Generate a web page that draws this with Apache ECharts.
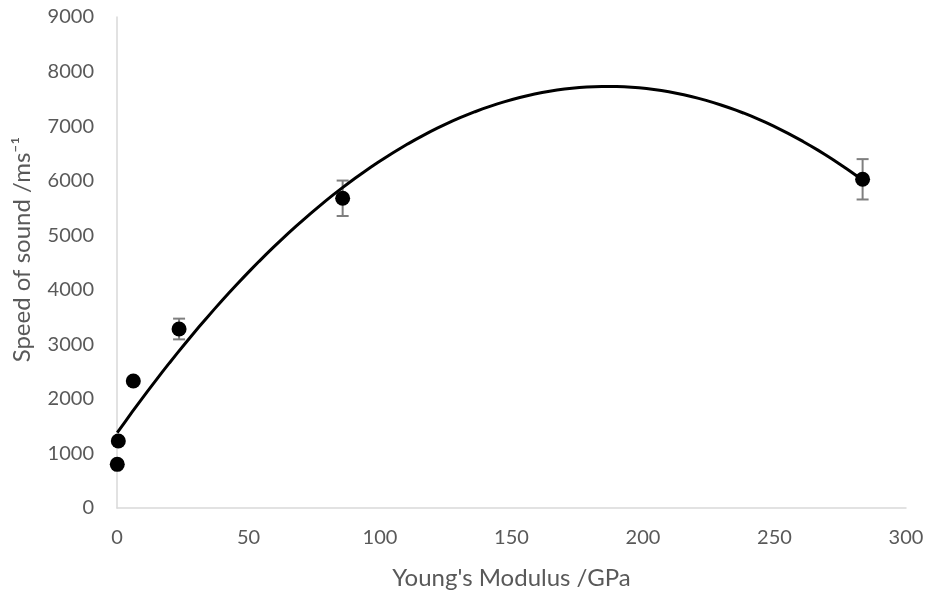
<!DOCTYPE html>
<html>
<head>
<meta charset="utf-8">
<script src="https://cdn.jsdelivr.net/npm/echarts@6/dist/echarts.min.js"></script>
<style>
  html, body { margin: 0; padding: 0; background: #fff; }
  #main { width: 932px; height: 591px; }
</style>
</head>
<body>
<div id="main"></div>
<script>
// 测量数据
const modulus = [0.1, 0.5, 6.2, 23.6, 85.8, 283.5];
const speed = [800, 1228, 2328, 3281, 5677, 6025];
const speedErr = [0, 0, 0, 190, 325, 370];

// 二次趋势线 (最小二乘, 同 Excel)
function quadFit(xs, ys) {
  let s = [0, 0, 0, 0, 0], t = [0, 0, 0];
  for (let i = 0; i < xs.length; i++) {
    let p = 1;
    for (let k = 0; k < 5; k++) { s[k] += p; if (k < 3) t[k] += p * ys[i]; p *= xs[i]; }
  }
  const m = [[s[0], s[1], s[2], t[0]], [s[1], s[2], s[3], t[1]], [s[2], s[3], s[4], t[2]]];
  for (let i = 0; i < 3; i++) {
    for (let j = i + 1; j < 3; j++) {
      const f = m[j][i] / m[i][i];
      for (let k = i; k < 4; k++) m[j][k] -= f * m[i][k];
    }
  }
  const c = [0, 0, 0];
  for (let i = 2; i >= 0; i--) {
    let v = m[i][3];
    for (let k = i + 1; k < 3; k++) v -= m[i][k] * c[k];
    c[i] = v / m[i][i];
  }
  return c;
}

const coef = quadFit(modulus, speed);
const xMin = Math.min(...modulus), xMax = Math.max(...modulus);
const trend = [];
for (let i = 0; i <= 100; i++) {
  const x = xMin + (xMax - xMin) * i / 100;
  trend.push([x, coef[0] + coef[1] * x + coef[2] * x * x]);
}

const points = modulus.map((x, i) => [x, speed[i]]);
const errData = modulus.map((x, i) => [x, speed[i] - speedErr[i], speed[i] + speedErr[i]]).filter((d, i) => speedErr[i] > 0);

const chart = echarts.init(document.getElementById('main'));
const font = 'Lato, "Open Sans", sans-serif';

chart.setOption({
  animation: false,
  grid: { left: 117, right: 26, top: 17, bottom: 83, outerBoundsMode: 'none' },
  xAxis: {
    type: 'value', min: 0, max: 300, interval: 50,
    name: "Young's Modulus /GPa", nameLocation: 'middle', nameGap: 58,
    nameTextStyle: { color: '#595959', fontSize: 24, fontFamily: font },
    axisLine: { show: true, lineStyle: { color: '#d9d9d9', width: 1.5 } },
    axisTick: { show: false },
    splitLine: { show: false },
    axisLabel: { color: '#595959', fontSize: 20, fontFamily: font, margin: 20 }
  },
  yAxis: {
    type: 'value', min: 0, max: 9000, interval: 1000,
    name: 'Speed of sound /ms⁻¹', nameLocation: 'middle', nameGap: 83,
    nameTextStyle: { color: '#595959', fontSize: 24, fontFamily: font, padding: [0, 0, 0, 26] },
    axisLine: { show: true, lineStyle: { color: '#d9d9d9', width: 1.5 } },
    axisTick: { show: false },
    splitLine: { show: false },
    axisLabel: { color: '#595959', fontSize: 20, fontFamily: font, margin: 23,
      formatter: v => String(v) }
  },
  series: [
    {
      type: 'custom',
      data: errData,
      z: 1,
      renderItem: function (params, api) {
        const lo = api.coord([api.value(0), api.value(1)]);
        const hi = api.coord([api.value(0), api.value(2)]);
        const w = 6;
        const st = { stroke: '#7f7f7f', lineWidth: 2 };
        return {
          type: 'group',
          children: [
            { type: 'line', shape: { x1: lo[0], y1: lo[1], x2: hi[0], y2: hi[1] }, style: st },
            { type: 'line', shape: { x1: lo[0] - w, y1: lo[1], x2: lo[0] + w, y2: lo[1] }, style: st },
            { type: 'line', shape: { x1: hi[0] - w, y1: hi[1], x2: hi[0] + w, y2: hi[1] }, style: st }
          ]
        };
      }
    },
    {
      type: 'scatter',
      data: points,
      symbolSize: 15,
      z: 2,
      itemStyle: { color: '#000', opacity: 1 }
    },
    {
      type: 'line',
      data: trend,
      showSymbol: false,
      z: 3,
      lineStyle: { color: '#000', width: 3 }
    }
  ]
});
</script>
</body>
</html>
